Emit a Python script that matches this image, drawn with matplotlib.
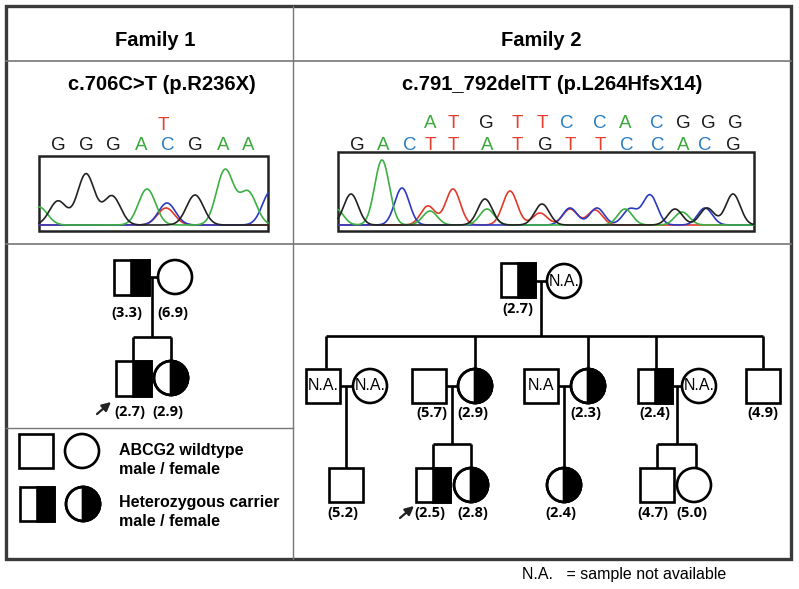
import numpy as np
import matplotlib
matplotlib.use("Agg")
import matplotlib.pyplot as plt
from matplotlib.patches import Rectangle, Circle, Wedge

# ---- data ----
titles = ["Family 1", "Family 2"]
mutations = ["c.706C>T (p.R236X)", "c.791_792delTT (p.L264HfsX14)"]

# base calls: (letter, scan position from left of trace window)
f1_calls_top = [("T", 124)]
f1_calls = [("G", 19), ("G", 47), ("G", 74), ("A", 102), ("C", 129),
            ("G", 156), ("A", 184), ("A", 209)]
f2_calls_top = [("A", 92), ("T", 115), ("G", 148), ("T", 179), ("T", 204),
                ("C", 229), ("C", 262), ("A", 287), ("C", 319), ("G", 345),
                ("G", 370), ("G", 397)]
f2_calls = [("G", 19), ("A", 45), ("C", 72), ("T", 92), ("T", 115),
            ("A", 149), ("T", 179), ("G", 207), ("T", 232), ("T", 262),
            ("C", 289), ("C", 320), ("A", 345), ("C", 367), ("G", 395)]

# trace peaks per channel: (scan position, signal)
f1_peaks = {
    "G": [(19, 24), (47, 51), (73, 29), (156, 30)],
    "A": [(0, 18), (108, 36), (186, 55), (209, 33)],
    "C": [(128, 22), (232, 34)],
    "T": [(127, 17)],
}
f2_peaks = {
    "G": [(13, 31), (147, 26), (204, 21), (337, 16), (369, 17), (395, 31)],
    "A": [(-2, 16), (44, 65), (92, 14), (149, 16), (287, 16), (344, 13)],
    "C": [(64, 37), (232, 17), (259, 17), (292, 16), (312, 30), (367, 17)],
    "T": [(90, 19), (115, 36), (172, 34), (202, 12), (232, 16), (257, 15)],
}

# pedigree values (in parentheses under each symbol)
f1_values = ["3.3", "6.9", "2.7", "2.9"]
f2_values = ["2.7", "5.7", "2.9", "2.3", "2.4", "4.9",
             "5.2", "2.5", "2.8", "2.4", "4.7", "5.0"]

legend_text = [["ABCG2 wildtype", "male / female"],
               ["Heterozygous carrier", "male / female"]]
footnote = "N.A.   = sample not available"

# ---- styles ----
base_col = {"G": "#1a1a1a", "A": "#3aa83a", "C": "#2a7cc4", "T": "#e5402e"}
trace_col = {"G": "#222222", "A": "#3cb043", "C": "#2b3bbf", "T": "#e03a2a"}
ped_font = "Open Sans"
LW = 1.9
SQ = 34
R = 17

fig = plt.figure(figsize=(7.99, 5.89), dpi=100)
ax = fig.add_axes([0, 0, 1, 1])
ax.set_xlim(0, 799)
ax.set_ylim(589, 0)
ax.set_aspect("equal")
ax.axis("off")

# ---- frame ----
ax.add_patch(Rectangle((6, 6), 785, 553, fill=False, lw=2.4, ec="#3a3a3a"))
ax.plot([293, 293], [6, 559], color="#777777", lw=1)
ax.plot([6, 791], [61, 61], color="#777777", lw=1.2)
ax.plot([6, 791], [244, 244], color="#777777", lw=1.2)
ax.plot([6, 293], [428, 428], color="#777777", lw=1)

ax.text(155, 40, titles[0], ha="center", va="center", fontsize=14.5,
        fontweight="bold", family="Liberation Sans")
ax.text(541, 40, titles[1], ha="center", va="center", fontsize=14.5,
        fontweight="bold", family="Liberation Sans")
ax.text(162, 85, mutations[0], ha="center", va="center", fontsize=14.5,
        fontweight="bold", family="Liberation Sans")
ax.text(552, 85, mutations[1], ha="center", va="center", fontsize=14.5,
        fontweight="bold", family="Liberation Sans")


def chromatogram(x0, y0, w, h, peaks, calls, calls_top, sigma, y_low, y_top):
    ax.add_patch(Rectangle((x0, y0), w, h, fc="white", ec="#222222", lw=1.8, zorder=2))
    base = y0 + h - 6
    xs = np.linspace(0, w, 800)
    for ch in ["T", "C", "A", "G"]:
        sig = np.zeros_like(xs)
        for p, v in peaks[ch]:
            sig += v * np.exp(-(xs - p) ** 2 / (2 * sigma ** 2))
        ax.plot(x0 + xs, base - sig, color=trace_col[ch], lw=1.2, zorder=3,
                solid_joinstyle="round")
    for b, p in calls:
        ax.text(x0 + p, y_low, b, ha="center", va="center", fontsize=13.5,
                color=base_col[b], family="Liberation Sans")
    for b, p in calls_top:
        ax.text(x0 + p, y_top, b, ha="center", va="center", fontsize=13.5,
                color=base_col[b], family="Liberation Sans")


chromatogram(39, 156, 229, 75, f1_peaks, f1_calls, f1_calls_top, 8.5, 145, 125)
chromatogram(338, 152, 416, 79, f2_peaks, f2_calls, f2_calls_top, 7.3, 146, 124)


# ---- pedigree helpers ----
def male(x, y, carrier=False, na=None, size=SQ):
    ax.add_patch(Rectangle((x - size / 2, y - size / 2), size, size,
                           fc="white", ec="black", lw=LW, zorder=4))
    if carrier:
        ax.add_patch(Rectangle((x, y - size / 2), size / 2, size,
                               fc="black", ec="black", lw=LW, zorder=5))
    if na:
        ax.text(x, y, na, ha="center", va="center", fontsize=11.5,
                family="Liberation Sans", zorder=6)


def female(x, y, carrier=False, na=None):
    ax.add_patch(Circle((x, y), R, fc="white", ec="black", lw=LW, zorder=4))
    if carrier:
        ax.add_patch(Wedge((x, y), R, -90, 90, fc="black", ec="black", lw=LW, zorder=5))
        ax.add_patch(Circle((x, y), R, fill=False, ec="black", lw=LW, zorder=6))
    if na:
        ax.text(x, y, na, ha="center", va="center", fontsize=11.5,
                family="Liberation Sans", zorder=6)


def line(xs, ys):
    ax.plot(xs, ys, color="black", lw=LW, zorder=3, solid_capstyle="butt")


def value(x, y, v):
    ax.text(x, y, "(" + v + ")", ha="center", va="center", fontsize=10.5,
            fontweight="bold", family=ped_font)


def proband(x, y):
    ax.annotate("", xy=(x + 14, y - 12), xytext=(x, y),
                arrowprops=dict(arrowstyle="-|>", lw=1.6, color="#222222",
                                mutation_scale=13, shrinkA=0, shrinkB=0))


# ---- family 1 pedigree ----
line([148, 158], [277, 277])
line([152, 152], [277, 337])
line([133, 171], [337, 337])
line([133, 133], [337, 361])
line([171, 171], [337, 361])
male(131, 277, carrier=True, size=35)
female(175, 277)
male(133, 378, carrier=True, size=35)
female(171, 378, carrier=True)
value(127, 313, f1_values[0])
value(173, 313, f1_values[1])
value(130, 412, f1_values[2])
value(168, 412, f1_values[3])
proband(97, 414)

# legend
male(36, 451, size=34)
female(82, 451)
male(37, 504, carrier=True, size=34)
female(83, 504, carrier=True)
for i, yy in enumerate([451, 503]):
    ax.text(119, yy, legend_text[i][0], ha="left", va="center", fontsize=11.5,
            fontweight="bold", family="Liberation Sans")
    ax.text(119, yy + 19, legend_text[i][1], ha="left", va="center", fontsize=11.5,
            fontweight="bold", family="Liberation Sans")

# ---- family 2 pedigree ----
line([535, 547], [281, 281])
line([541, 541], [281, 336])
line([326, 763], [336, 336])
for cx in [326, 475, 588, 656, 763]:
    line([cx, cx], [336, 368])
male(518, 280, carrier=True)
female(564, 281, na="N.A.")
value(518, 309, f2_values[0])

# generation 2
y2 = 386
line([340, 353], [y2, y2]); line([346, 346], [y2, 468])
male(323, y2, na="N.A.")
female(370, y2, na="N.A.")

line([446, 458], [y2, y2]); line([452, 452], [y2, 444])
male(429, y2)
female(475, y2, carrier=True)
value(432, 413, f2_values[1])
value(473, 413, f2_values[2])

line([558, 571], [y2, y2]); line([564, 564], [y2, 468])
male(541, y2, na="N.A")
female(588, y2, carrier=True)
value(586, 413, f2_values[3])

line([672, 682], [y2, y2]); line([677, 677], [y2, 444])
male(655, y2, carrier=True)
female(699, y2, na="N.A.")
value(655, 413, f2_values[4])

male(763, y2)
value(763, 413, f2_values[5])

# generation 3
y3 = 485
male(346, y3)
value(343, 513, f2_values[6])

line([433, 471], [444, 444]); line([433, 433], [444, 468]); line([471, 471], [444, 468])
male(433, y3, carrier=True)
female(471, y3, carrier=True)
value(430, 513, f2_values[7])
value(473, 513, f2_values[8])
proband(400, 518)

female(564, y3, carrier=True)
value(561, 513, f2_values[9])

line([657, 696], [444, 444]); line([657, 657], [444, 468]); line([696, 696], [444, 468])
male(657, y3)
female(694, y3)
value(653, 513, f2_values[10])
value(692, 513, f2_values[11])

ax.text(522, 575, footnote, ha="left", va="center", fontsize=11.5,
        family="Liberation Sans")

fig.savefig("out.png", dpi=100)
